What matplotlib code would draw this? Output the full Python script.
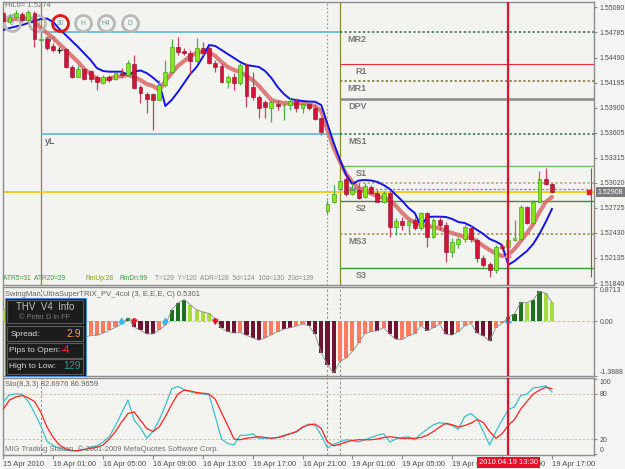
import matplotlib
matplotlib.use("Agg")
import matplotlib.pyplot as plt
import matplotlib.transforms as mtransforms
from matplotlib.patches import Rectangle
import numpy as np

plt.rcParams['font.family'] = ['Liberation Sans', 'DejaVu Sans']

# ---- GBPUSD M30 candles ----
op = [1.55013, 1.54908, 1.54966, 1.55002, 1.54931, 1.55013, 1.54696, 1.54708, 1.54626, 1.54584,
      1.54590, 1.54379, 1.54261, 1.54355, 1.54332, 1.54261, 1.54191, 1.54261, 1.54238, 1.54308,
      1.54285, 1.54414, 1.54144, 1.54062, 1.54062, 1.53991, 1.54167, 1.54320, 1.54614, 1.54567,
      1.54543, 1.54449, 1.54602, 1.54602, 1.54426, 1.54391, 1.54203, 1.54261, 1.54191, 1.54402,
      1.54144, 1.54026, 1.53968, 1.53897, 1.53944, 1.53932, 1.53932, 1.53979, 1.53897, 1.53944,
      1.53897, 1.53779, 1.52687, 1.52792, 1.52945, 1.53063, 1.52886, 1.52934, 1.52851, 1.52969,
      1.52898, 1.52792, 1.52898, 1.52499, 1.52569, 1.52522, 1.52581, 1.52487, 1.52663, 1.52381,
      1.52581, 1.52522, 1.52205, 1.52299, 1.52358, 1.52487, 1.52346, 1.52135, 1.52064, 1.51994,
      1.52276, 1.52264, 1.52346, 1.52358, 1.52734, 1.52546, 1.52792, 1.53063, 1.53004]
hi = [1.55037, 1.55002, 1.55049, 1.55025, 1.55049, 1.55037, 1.54790, 1.54743, 1.54661, 1.54614,
      1.54602, 1.54402, 1.54402, 1.54367, 1.54344, 1.54285, 1.54285, 1.54285, 1.54320, 1.54367,
      1.54461, 1.54520, 1.54167, 1.54085, 1.54073, 1.54226, 1.54461, 1.54708, 1.54731, 1.54602,
      1.54579, 1.54720, 1.54673, 1.54626, 1.54461, 1.54426, 1.54285, 1.54308, 1.54426, 1.54426,
      1.54320, 1.54050, 1.53991, 1.53991, 1.53991, 1.53944, 1.54026, 1.54015, 1.53956, 1.53956,
      1.53932, 1.53791, 1.52816, 1.52992, 1.53051, 1.53098, 1.53016, 1.53016, 1.53016, 1.52992,
      1.52934, 1.52922, 1.52922, 1.52604, 1.52616, 1.52581, 1.52616, 1.52675, 1.52675, 1.52604,
      1.52616, 1.52557, 1.52370, 1.52381, 1.52522, 1.52522, 1.52370, 1.52170, 1.52088, 1.52287,
      1.52299, 1.52381, 1.52581, 1.52757, 1.52745, 1.52816, 1.53157, 1.53192, 1.53016]
lo = [1.54908, 1.54896, 1.54955, 1.54908, 1.54919, 1.54614, 1.54684, 1.54579, 1.54555, 1.54543,
      1.54367, 1.54250, 1.54261, 1.54226, 1.54203, 1.54109, 1.54179, 1.54203, 1.54226, 1.54250,
      1.54273, 1.54120, 1.53956, 1.53838, 1.53639, 1.53991, 1.54144, 1.54308, 1.54520, 1.54520,
      1.54297, 1.54438, 1.54520, 1.54414, 1.54320, 1.54191, 1.54132, 1.54109, 1.54167, 1.53909,
      1.53991, 1.53779, 1.53779, 1.53732, 1.53874, 1.53756, 1.53874, 1.53850, 1.53838, 1.53874,
      1.53756, 1.53580, 1.52651, 1.52781, 1.52934, 1.52863, 1.52875, 1.52828, 1.52839, 1.52886,
      1.52792, 1.52781, 1.52381, 1.52405, 1.52464, 1.52428, 1.52464, 1.52464, 1.52264, 1.52370,
      1.52464, 1.52088, 1.52146, 1.52252, 1.52323, 1.52323, 1.52088, 1.52029, 1.51911, 1.51958,
      1.52229, 1.52205, 1.52334, 1.52346, 1.52534, 1.52522, 1.52781, 1.52992, 1.52898]
cl = [1.54919, 1.54966, 1.55013, 1.54931, 1.55025, 1.54708, 1.54708, 1.54602, 1.54579, 1.54584,
      1.54379, 1.54261, 1.54355, 1.54238, 1.54238, 1.54203, 1.54261, 1.54226, 1.54308, 1.54285,
      1.54426, 1.54132, 1.54073, 1.54003, 1.53991, 1.54167, 1.54320, 1.54614, 1.54555, 1.54543,
      1.54449, 1.54602, 1.54543, 1.54426, 1.54379, 1.54203, 1.54261, 1.54191, 1.54402, 1.54038,
      1.54026, 1.53897, 1.53909, 1.53968, 1.53921, 1.53938, 1.53979, 1.53897, 1.53944, 1.53897,
      1.53768, 1.53615, 1.52769, 1.52886, 1.53039, 1.52886, 1.52934, 1.52839, 1.52981, 1.52898,
      1.52792, 1.52898, 1.52499, 1.52569, 1.52522, 1.52569, 1.52487, 1.52663, 1.52381, 1.52581,
      1.52522, 1.52205, 1.52323, 1.52358, 1.52499, 1.52358, 1.52135, 1.52053, 1.51994, 1.52264,
      1.52252, 1.52346, 1.52370, 1.52734, 1.52546, 1.52792, 1.53063, 1.53004, 1.52908]

ma_blue = [1.54814, 1.54837, 1.54855, 1.54872, 1.54896, 1.54919, 1.54943, 1.54949, 1.54908, 1.54825,
           1.54755, 1.54684, 1.54614, 1.54537, 1.54461, 1.54367, 1.54332, 1.54324, 1.54324, 1.54324,
           1.54285, 1.54326, 1.54338, 1.54308, 1.54255, 1.54191, 1.53921, 1.53991, 1.54085, 1.54191,
           1.54297, 1.54379, 1.54496, 1.54637, 1.54626, 1.54579, 1.54532, 1.54485, 1.54438, 1.54402,
           1.54391, 1.54379, 1.54332, 1.54250, 1.54144, 1.54062, 1.54003, 1.53991, 1.53979, 1.53973,
           1.53971, 1.53932, 1.53709, 1.53486, 1.53286, 1.53110, 1.53004, 1.53045, 1.53051, 1.53045,
           1.53028, 1.52992, 1.52945, 1.52875, 1.52804, 1.52722, 1.52663, 1.52511, 1.52616, 1.52620,
           1.52620, 1.52616, 1.52593, 1.52557, 1.52546, 1.52511, 1.52464, 1.52417, 1.52358, 1.52328,
           1.52287, 1.52053, 1.52099, 1.52158, 1.52217, 1.52299, 1.52417, 1.52557, 1.52710]
ma_pink = [1.54931, 1.54931, 1.54943, 1.54943, 1.54955, 1.54908, 1.54837, 1.54778, 1.54720, 1.54649,
           1.54579, 1.54508, 1.54438, 1.54355, 1.54297, 1.54238, 1.54226, 1.54244, 1.54261, 1.54273,
           1.54285, 1.54261, 1.54226, 1.54179, 1.54156, 1.54109, 1.54214, 1.54308, 1.54391, 1.54449,
           1.54508, 1.54543, 1.54559, 1.54555, 1.54508, 1.54438, 1.54379, 1.54344, 1.54320, 1.54273,
           1.54226, 1.54156, 1.54073, 1.53991, 1.53968, 1.53956, 1.53952, 1.53952, 1.53950, 1.53938,
           1.53921, 1.53862, 1.53639, 1.53427, 1.53263, 1.53122, 1.53028, 1.52957, 1.52922, 1.52892,
           1.52863, 1.52839, 1.52816, 1.52745, 1.52663, 1.52593, 1.52552, 1.52522, 1.52511, 1.52499,
           1.52481, 1.52452, 1.52428, 1.52405, 1.52381, 1.52370, 1.52328, 1.52276, 1.52229, 1.52188,
           1.52158, 1.52170, 1.52240, 1.52334, 1.52428, 1.52534, 1.52675, 1.52792, 1.52851]

# pivot levels
piv_names = ['MR2', 'R1', 'MR1', 'DPV', 'MS1', 'S1', 'MS2', 'S2', 'MS3', 'S3']
piv_vals = [1.54794, 1.54414, 1.54214, 1.54003, 1.53597, 1.53216, 1.53016, 1.52804, 1.52413, 1.52021]
y_high, y_low = 1.54794, 1.53597
day_open = 1.52950
yellow_lvl = 1.52906
price_ticks = [1.55080, 1.54785, 1.54490, 1.54195, 1.53900, 1.53605, 1.53315,
               1.53020, 1.52725, 1.52430, 1.52135, 1.51840]

# TRIX histogram
trix = [0.30, 0.30, 0.28, 0.25, 0.22, 0.12, -0.05, -0.15, -0.25, -0.30,
        -0.38, -0.44, -0.44, -0.40, -0.36, -0.36, -0.30, -0.23, -0.15, -0.06,
        0.09, -0.15, -0.23, -0.32, -0.32, -0.22, -0.10, 0.29, 0.47, 0.55,
        0.42, 0.29, 0.24, 0.20, 0.07, -0.18, -0.26, -0.30, -0.28, -0.36,
        -0.42, -0.48, -0.42, -0.34, -0.26, -0.20, -0.16, -0.12, -0.07, -0.11,
        -0.33, -0.80, -1.10, -1.32, -1.02, -0.93, -0.76, -0.55, -0.31, -0.26,
        -0.24, -0.16, -0.33, -0.46, -0.46, -0.37, -0.31, -0.11, -0.24, -0.16,
        -0.08, -0.33, -0.35, -0.26, -0.11, -0.05, -0.30, -0.37, -0.50, -0.16,
        -0.05, 0.10, 0.19, 0.49, 0.47, 0.55, 0.76, 0.71, 0.49]
trix_col = ['lg', 'lg', 'lg', 'lg', 'lg', 'lg', 'ma', 'ma', 'ma', 'ma',
            'ma', 'ma', 'sa', 'sa', 'sa', 'sa', 'sa', 'sa', 'sa', 'sa',
            'dg', 'ma', 'ma', 'ma', 'ma', 'sa', 'sa', 'dg', 'dg', 'dg',
            'lg', 'lg', 'lg', 'lg', 'lg', 'ma', 'ma', 'ma', 'sa', 'ma',
            'ma', 'ma', 'sa', 'sa', 'sa', 'ma', 'ma', 'sa', 'sa', 'ma',
            'ma', 'ma', 'ma', 'ma', 'sa', 'sa', 'sa', 'sa', 'sa', 'sa',
            'ma', 'sa', 'ma', 'ma', 'sa', 'sa', 'sa', 'sa', 'ma', 'sa',
            'sa', 'ma', 'ma', 'sa', 'sa', 'sa', 'ma', 'ma', 'ma', 'sa',
            'sa', 'dg', 'dg', 'dg', 'lg', 'dg', 'dg', 'lg', 'lg']
arrow_up = [19, 26, 81]
arrow_dn = [21, 34]

# Stochastic (8,3,3)
sto_main = [70, 79, 80, 80, 70, 55, 38, 17, 11, 8, 5, 4.5, 4.5, 6, 9, 11, 16, 23, 38, 55,
            72, 45, 35, 21, 30, 45, 65, 87, 90, 86, 83, 81, 80, 79, 50, 20, 14, 12, 25, 25,
            27, 21, 21, 21, 22, 25, 27, 29, 35, 40, 38, 25, 8, 13, 16, 19, 18, 16, 19, 22,
            25, 27, 16, 20, 22, 23, 19, 27, 33, 39, 42, 40, 38, 33, 50, 54, 47, 30, 12, 30,
            45, 59, 63, 78, 80, 88, 89, 91, 82.7]
sto_sig = [60, 72, 76, 78, 75, 70, 56, 36, 22, 12, 7, 4.5, 4.5, 6, 7.5, 9, 12, 20, 30, 43,
           54, 56, 45, 34, 30, 36, 50, 66, 80, 85, 84, 82, 81, 80, 73, 55, 38, 20, 19, 21,
           22, 23, 22, 21, 22, 24, 27, 30, 36, 39, 40, 34, 16, 11, 13, 16, 18, 19, 19, 19,
           20, 22, 23, 22, 21, 21, 21, 22, 25, 30, 36, 41, 39, 36, 38, 41, 46, 42, 30, 21,
           27, 38, 46, 60, 70, 80, 85, 89, 87.0]

time_ticks = [0, 8, 16, 24, 32, 40, 48, 56, 64, 72, 80, 88]
time_labels = ['15 Apr 2010', '16 Apr 01:00', '16 Apr 05:00', '16 Apr 09:00', '16 Apr 13:00',
               '16 Apr 17:00', '16 Apr 21:00', '19 Apr 01:00', '19 Apr 05:00', '19 Apr 09:00',
               '19 Apr 13:00', '19 Apr 17:00']
cursor_bar = 81
day_start = [6, 54]
week_start = 52

W, H = 625, 469


def px(x0, y0, x1, y1):
    return [x0 / W, 1 - y1 / H, (x1 - x0) / W, (y1 - y0) / H]


def ftext(x, y, s, **kw):
    fig.text(x / W, 1 - y / H, s, va='center', **kw)


fig = plt.figure(figsize=(6.25, 4.69), dpi=100)
fig.patch.set_facecolor('#F4F4F2')
bg = '#F3F3EF'
ax = fig.add_axes(px(3, 2, 594, 285), facecolor=bg)
ax2 = fig.add_axes(px(3, 287, 594, 376), facecolor=bg, sharex=ax)
ax3 = fig.add_axes(px(3, 378, 594, 455), facecolor=bg, sharex=ax)

idx = np.arange(len(op))
o, h, l, c = map(np.array, (op, hi, lo, cl))
xmax = 94.75
ax.set_xlim(-0.05, xmax)

for a in (ax, ax2, ax3):
    for s in a.spines.values():
        s.set_color('#8C8C8C')
        s.set_linewidth(1.0)
    a.yaxis.tick_right()
    a.tick_params(axis='y', labelsize=5.0, colors='#8C8C8C', labelcolor='#505050',
                  length=2.5, pad=1.5)

# ---------------- main chart ----------------
ax.set_ylim(1.51817, 1.55143)
ax.set_yticks(price_ticks)
ax.set_yticklabels(['%.5f' % p for p in price_ticks])
ax.tick_params(axis='x', bottom=False, labelbottom=False)

# separators
ax.axvline(day_start[0], color='#8C8C30', lw=0.9, zorder=1)
ax.axvline(day_start[1], color='#8C8C30', lw=0.9, zorder=1)
ax.axvline(week_start, color='#909090', lw=0.8, ls=(0, (1.5, 2)), zorder=1)

# yesterday high / low
ax.hlines([y_high, y_low], day_start[0], day_start[1], color='#5CB8D8', lw=1.2, zorder=1)
off = mtransforms.offset_copy(ax.transData, fig=fig, x=0, y=-3, units='dots')
ax.text(6.6, y_low, 'yL', transform=off, va='top', ha='left', fontsize=6.5,
        fontweight='bold', color='#6E6E6E', zorder=1)
ax.text(6.6, y_high, 'yH', transform=off, va='top', ha='left', fontsize=6.5,
        fontweight='bold', color='#6E6E6E', zorder=1)

# pivots
piv_style = {'MR2': ('#2E6B4A', (0, (1.5, 1.5)), 1.1), 'R1': ('#E0303C', '-', 0.8),
             'MR1': ('#7A6A30', (0, (1.5, 1.5)), 1.1), 'DPV': ('#8C8C8C', '-', 1.8),
             'MS1': ('#2E6B4A', (0, (1.5, 1.5)), 1.1), 'S1': ('#74B874', '-', 1.0),
             'MS2': ('#B0A070', (0, (1.5, 1.5)), 1.1), 'S2': ('#3C8C3C', '-', 1.0),
             'MS3': ('#9A8A50', (0, (1.5, 1.5)), 1.1), 'S3': ('#3C9A3C', '-', 1.0)}
for name, v in zip(piv_names, piv_vals):
    col, ls, lw = piv_style[name]
    ax.hlines(v, day_start[1], xmax, color=col, ls=ls, lw=lw, zorder=1)
    ax.text(58.3, v, name, transform=off, va='top', ha='right', fontsize=6.5,
            fontweight='bold', color='#7A7A7A', zorder=1)
ax.hlines(day_open, day_start[1], xmax, color='#E060A0', ls=(0, (2, 1.5)), lw=0.9, zorder=1)
ax.axhline(yellow_lvl, color='#F2C600', lw=1.2, zorder=1)

# moving averages
ax.plot(idx, ma_pink, color='#D86A6A', lw=3.0, alpha=0.85, zorder=2,
        solid_capstyle='round')
ax.plot(idx, ma_blue, color='#1414E6', lw=1.4, zorder=3)

# candles
doji = np.isclose(o, c)
bull = (c > o) & ~doji
body_col = np.where(bull, '#80E81A', '#D2143A')
edge_col = np.where(bull, '#3E8E12', '#8C1028')
wick_col = np.where(bull, '#4CAA4C', '#C24862')
wick_col = np.where(doji, '#202020', wick_col)
ax.vlines(idx, l, h, colors=wick_col, lw=0.9, zorder=4)
ax.bar(idx[~doji], np.maximum(np.abs(c - o), 0.00005)[~doji],
       bottom=np.minimum(o, c)[~doji], width=0.62, color=body_col[~doji],
       edgecolor=edge_col[~doji], linewidth=0.4, zorder=5)
ax.hlines(c[doji], idx[doji] - 0.35, idx[doji] + 0.35, color='#202020', lw=1.0, zorder=5)

# signal arrow under cursor bar
ax.plot(cursor_bar, lo[cursor_bar] - 0.00025, marker='^', ms=4.5, color='#F4A0A0',
        zorder=6)

# cursor line
ax.axvline(cursor_bar, color='#E8102A', lw=1.6, zorder=7)

# day high/low marker and last price
day_hi = max(hi[day_start[1]:])
day_lo = min(lo[day_start[1]:])
ax.vlines(94.3, day_lo, day_hi, color='#E03040', lw=0.8, zorder=3)
ax.plot(94.0, cl[-1], 's', color='#E02030', ms=3.5, zorder=6)
bt = mtransforms.blended_transform_factory(ax.transAxes, ax.transData)
ax.text(1.006, cl[-1], '%.5f' % cl[-1], transform=bt, ha='left', va='center',
        fontsize=5.0, color='white', zorder=8,
        bbox=dict(boxstyle='square,pad=0.25', fc='#7C7C7C', ec='none'))

# timeframe buttons
btn_x = [12, 37, 60, 83, 106, 130]
btn_lbl = ['5', '15', '30', 'H', 'H4', 'D']
for bx, bl in zip(btn_x, btn_lbl):
    fx, fy = (bx - 3) / 591, 1 - (23 - 2) / 283
    ring = '#E01818' if bl == '30' else '#B8B8B8'
    ax.plot([fx], [fy], 'o', transform=ax.transAxes, ms=11.5, mfc='none', mec=ring,
            mew=2.0, zorder=3.5)
    ax.text(fx, fy, bl, transform=ax.transAxes, ha='center', va='center', fontsize=4.8,
            color='#6A9CA0', zorder=3.5)

ftext(5, 5.5, 'HiLo= 1.5274', fontsize=5.5, color='#707070')
ftext(3, 278, 'ATR5=31  ATR20=29', fontsize=4.8, color='#3A9E3A')
ftext(85, 278, 'RmUp:28', fontsize=4.8, color='#7EA020')
ftext(120, 278, 'RmDn:99', fontsize=4.8, color='#3A9E3A')
ftext(155, 278, 'T=129  Y=120  ADR=128  5d=124  10d=130  20d=139', fontsize=4.8,
      color='#8C8C8C')

# ---------------- TRIX panel ----------------
cmap = {'lg': '#A8DC3A', 'dg': '#1E701E', 'sa': '#FF7B62', 'ma': '#6C1430'}
ax2.set_ylim(-1.3888, 0.8713)
ax2.axhline(0, color='#C8B8A0', lw=0.7, ls=(0, (3, 2)), zorder=1)
ax2.bar(idx, trix, width=0.66, color=[cmap[k] for k in trix_col], zorder=3)
ax2.plot(idx, trix, color='#8C8C8C', lw=0.6, zorder=4)
for i in arrow_up:
    ax2.annotate('', xy=(i, 0.17), xytext=(i, -0.15),
                 arrowprops=dict(arrowstyle='simple,head_width=0.9,head_length=0.7,tail_width=0.35',
                                 color='#38B4F4', lw=0, mutation_scale=6), zorder=5)
for i in arrow_dn:
    ax2.annotate('', xy=(i, -0.17), xytext=(i, 0.15),
                 arrowprops=dict(arrowstyle='simple,head_width=0.9,head_length=0.7,tail_width=0.35',
                                 color='#E81830', lw=0, mutation_scale=6), zorder=5)
ax2.set_yticks([0.8713, 0.0, -1.3888])
ax2.set_yticklabels(['0.8713', '0.00', '-1.3888'])
tl = ax2.get_yticklabels()
tl[0].set_va('top')
tl[2].set_va('bottom')
ax2.tick_params(axis='x', bottom=False, labelbottom=False)
ftext(5, 294, 'SwingMan UltraSuperTRIX_PV_4col (3, E,E,E, C) 0.5301', fontsize=5.5,
      color='#606060')

# ---------------- Stochastic panel ----------------
ax3.set_ylim(-1.3, 101.3)
for lvl in (80, 20):
    ax3.axhline(lvl, color='#D4B89A', lw=0.6, ls=(0, (3, 2)), zorder=1)
ax3.plot(idx, sto_main, color='#3CC0C8', lw=0.9, zorder=3)
ax3.plot(idx, sto_sig, color='#FF2424', lw=0.9, zorder=3)
ax3.set_yticks([100, 80, 20, 0])
ax3.set_yticklabels(['100', '80', '20', '0'])
tl = ax3.get_yticklabels()
tl[0].set_va('top')
tl[3].set_va('bottom')
ax3.set_xticks(time_ticks)
ax3.set_xticklabels(time_labels, ha='left', fontsize=5.5, color='#505050')
ax3.tick_params(axis='x', length=3, pad=1, colors='#8C8C8C', labelcolor='#505050')
ftext(5, 384, 'Sto(8,3,3) 82.6976 86.9659', fontsize=5.5, color='#606060')
ftext(5, 449, 'MIG Trading Station, \u00a9 2001-2009 MetaQuotes Software Corp.',
      fontsize=5.5, color='#707070')
ax3.annotate('2010.04.19 13:30', xy=(cursor_bar, 0), xycoords=('data', 'axes fraction'),
             xytext=(0, -5.5), textcoords='offset points', ha='center', va='center',
             fontsize=5.5, color='white', annotation_clip=False, zorder=10,
             bbox=dict(boxstyle='square,pad=0.25', fc='#E8102A', ec='none'))

for a in (ax2, ax3):
    a.axvline(day_start[0], color='#909090', lw=0.8, ls=(0, (2, 2)), zorder=1)
    a.axvline(day_start[1], color='#909090', lw=0.8, ls=(0, (2, 2)), zorder=1)
    a.axvline(week_start, color='#909090', lw=0.8, ls=(0, (2, 2)), zorder=1)
    a.axvline(cursor_bar, color='#E8102A', lw=1.6, zorder=7)

# ---------------- THV info box ----------------
def frect(x0, y0, x1, y1, **kw):
    fig.add_artist(Rectangle((x0 / W, 1 - y1 / H), (x1 - x0) / W, (y1 - y0) / H,
                             transform=fig.transFigure, **kw))


frect(5, 298, 86, 376, facecolor='#1C1C1C', edgecolor='#4A8AD0', lw=0.8, zorder=20)
frect(7, 300, 83, 323, facecolor='none', edgecolor='#5A5A5A', lw=0.8, zorder=21)
for y0 in (326, 343, 359):
    frect(7, y0, 83, y0 + 15, facecolor='none', edgecolor='#5A5A5A', lw=0.8, zorder=21)
ftext(45, 307, 'THV  V4  Info', fontsize=7, color='#C0C0C0', ha='center', zorder=22)
ftext(45, 317, '\u00a9 Peter D in FF', fontsize=5.3, color='#7C7C7C', ha='center', zorder=22)
ftext(11, 334, 'Spread:', fontsize=6, color='#D8D8D8', zorder=22)
ftext(81, 334, '2.9', fontsize=7.5, color='#FFA030', ha='right', zorder=22)
ftext(9, 350, 'Pips to Open:', fontsize=6, color='#D8D8D8', zorder=22)
ftext(70, 350, '-4', fontsize=7.5, color='#FF3030', ha='right', zorder=22)
ftext(9, 366, 'High to Low:', fontsize=6, color='#D8D8D8', zorder=22)
ftext(81, 366, '129', fontsize=7.5, color='#20A088', ha='right', zorder=22)

fig.savefig('out.png', dpi=100, facecolor=fig.get_facecolor())
